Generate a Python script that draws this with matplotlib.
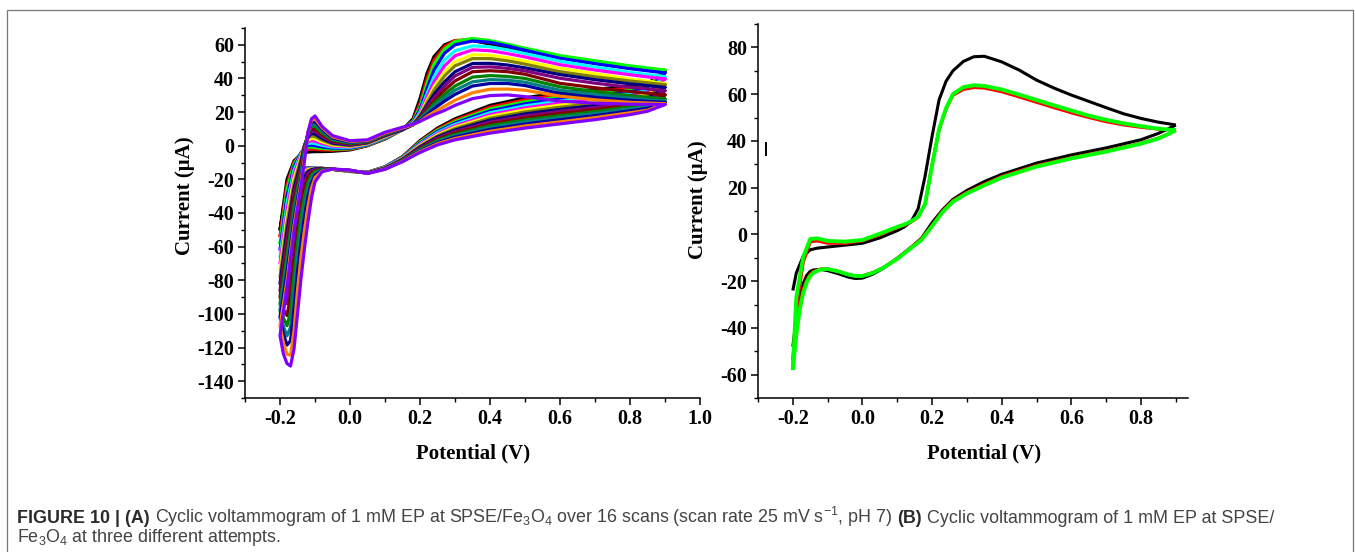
import matplotlib
matplotlib.use("Agg")
import matplotlib.pyplot as plt
from matplotlib.ticker import MultipleLocator, FormatStrFormatter
from matplotlib.lines import Line2D
from matplotlib.patches import Rectangle

plt.rcParams['axes.unicode_minus'] = False
plt.rcParams['font.family'] = 'Liberation Serif'
plt.rcParams['font.weight'] = 'bold'
plt.rcParams['mathtext.fontset'] = 'custom'
plt.rcParams['mathtext.default'] = 'rm'
plt.rcParams['mathtext.rm'] = 'Liberation Sans:normal'
plt.rcParams['mathtext.it'] = 'Liberation Sans:italic:normal'
plt.rcParams['mathtext.bf'] = 'Liberation Sans:bold'

# ---------------- Panel A: 16 successive scans ----------------
# upper branch: +0.9 V back to -0.2 V
E_UP_A = [0.90, 0.80, 0.70, 0.60, 0.50, 0.45, 0.40, 0.35, 0.30, 0.27, 0.24, 0.22, 0.20, 0.18,
          0.15, 0.10, 0.05, 0.00, -0.05, -0.08, -0.10, -0.11, -0.12, -0.13, -0.14, -0.16, -0.18, -0.20]
# lower branch: -0.2 V up to +0.9 V
E_LO_A = [-0.20, -0.19, -0.18, -0.17, -0.16, -0.15, -0.14, -0.13, -0.12, -0.11, -0.10, -0.08, -0.05,
          0.00, 0.05, 0.10, 0.15, 0.20, 0.25, 0.30, 0.40, 0.50, 0.60, 0.70, 0.80, 0.85, 0.90]

scan01_up = [44, 46.5, 49.5, 52.5, 56.5, 58.5, 60.5, 62.5, 62.5, 60, 53, 43, 28, 16, 9.5, 4, 0, -2.5, -3.3, -3.5, -3.5, -3.6, -3.8, -4.2, -5, -9, -20, -50]
scan02_up = [44.5, 47, 50, 53, 57.2, 59.5, 61.5, 63.3, 62.5, 59, 51, 40, 25, 15, 9.5, 4.3, 0.2, -2.1, -2.6, -2.5, -2.1, -2.0, -2.2, -3.0, -4.5, -10, -23, -54]
scan03_up = [45, 47.5, 50.5, 53.6, 58, 60.3, 62.5, 63.8, 62, 57.5, 48.5, 37, 23, 14.5, 9.5, 4.5, 0.4, -1.8, -2.0, -1.6, -1.1, -0.8, -0.9, -2.0, -4.2, -11, -26, -58]
scan04_up = [43.3, 45.8, 48.8, 52, 56.8, 59.3, 61.5, 62.3, 60, 55, 45, 34, 21.5, 14, 9.5, 4.8, 0.6, -1.4, -1.4, -0.7, 0, 0.4, 0.3, -1.2, -4.2, -12.5, -30, -62]
scan05_up = [41, 43.6, 46.8, 50.2, 54.8, 57, 58.8, 59.4, 56.5, 51, 41, 31, 20, 13.5, 9.5, 5.0, 0.9, -1.0, -0.8, 0.3, 1.3, 1.6, 1.3, -0.6, -4.8, -14.5, -34, -66]
scan06_up = [39.7, 42.2, 45, 48.2, 52.8, 54.8, 56.5, 57, 53.5, 47.5, 38, 29, 19, 13, 9.5, 5.3, 1.1, -0.7, -0.2, 1.3, 2.7, 3.0, 2.4, -0.2, -5.5, -17, -38, -70]
scan07_up = [37, 39.7, 42.8, 46, 50.3, 52.3, 53.8, 54.1, 50, 44, 35, 27, 18.5, 13, 9.5, 5.5, 1.3, -0.3, 0.4, 2.3, 4.1, 4.4, 3.4, 0, -6.5, -19.5, -42, -74]
scan08_up = [36.3, 38.5, 41, 44, 48.5, 50.5, 51.8, 51.8, 47.5, 41.5, 33, 25.5, 18, 12.5, 9.5, 5.8, 1.5, 0.0, 1.0, 3.3, 5.5, 5.8, 4.5, 0.2, -7.8, -22.5, -46, -78]
scan09_up = [34.7, 36.8, 39.3, 42.3, 46.3, 48, 49, 48.9, 44, 38, 30.5, 24, 17.5, 12.5, 9.5, 6.0, 1.8, 0.4, 1.6, 4.4, 7.0, 7.2, 5.4, 0.2, -9.5, -25.5, -50.5, -82]
scan10_up = [32.7, 34.8, 37.2, 40.1, 44.5, 46, 46.9, 46.6, 41.5, 35.5, 28.5, 23, 17, 12.5, 9.8, 6.3, 2.0, 0.8, 2.2, 5.5, 8.5, 8.6, 6.2, -0.2, -11.5, -28.5, -55, -86]
scan11_up = [30.2, 32.2, 34.5, 37.1, 42.5, 44, 44.6, 44, 38.5, 33, 26.5, 21.5, 16.5, 12.5, 10, 6.5, 2.2, 1.1, 2.8, 6.6, 10.0, 10.0, 6.9, -1, -13.5, -32, -60, -90]
scan12_up = [27.8, 29.8, 32.3, 35, 40, 41.2, 41.7, 40.8, 35.5, 30.5, 25, 20.5, 16, 12.5, 10, 6.8, 2.4, 1.5, 3.4, 7.7, 11.5, 11.4, 7.4, -2, -15.5, -36, -65, -94]
scan13_up = [26.5, 28.3, 30.5, 33, 37.8, 39, 39.3, 38, 33, 28.5, 23.5, 19.5, 15.5, 12.5, 10, 7.0, 2.7, 1.8, 4.0, 8.8, 13.0, 12.6, 7.8, -3.5, -18, -40, -70, -98]
scan14_up = [25.8, 27, 28.8, 31, 35.8, 37, 37, 35.5, 30.5, 26.5, 22, 18.5, 15, 12.5, 10, 7.3, 2.9, 2.2, 4.6, 9.8, 14.5, 13.8, 8.0, -5, -20, -44, -75, -102]
scan15_up = [25, 25.8, 27.3, 29.5, 33, 33.7, 33.6, 31.5, 27, 23.5, 20, 17.5, 14.5, 12.5, 10.5, 7.5, 3.1, 2.6, 5.3, 10.7, 16.0, 15.0, 8.0, -7, -22, -47.5, -80, -107]
scan16_up = [24.5, 24.7, 25.3, 26.5, 29.2, 30.2, 29.8, 28, 24, 21, 18.5, 16.5, 14.5, 12.8, 11, 8.0, 3.5, 3.0, 6.0, 11.5, 17.7, 16.0, 8.0, -9, -24, -51, -84, -113]

scan01_lo = [-50, -38, -27, -20, -16, -14.5, -13.8, -13.4, -13.2, -13.2, -13.3, -13.5, -14, -15.3, -15.8, -12.5, -6.5, 3, 10.5, 16, 24, 28.5, 31.5, 33.5, 35.5, 37, 44]
scan02_lo = [-54, -45, -32, -23, -17.5, -15, -14, -13.5, -13.3, -13.2, -13.3, -13.5, -14, -15.25, -15.85, -12.6, -6.7, 2.5, 9.8, 15.2, 22.9, 27.3, 30.3, 32.3, 34.4, 36, 44.5]
scan03_lo = [-58, -52, -38, -26, -19, -16, -14.5, -13.7, -13.4, -13.3, -13.3, -13.5, -14, -15.2, -15.9, -12.7, -6.9, 2.1, 9.2, 14.3, 21.8, 26.1, 29, 31.1, 33.2, 35, 45]
scan04_lo = [-62, -59, -45, -31, -21.5, -17, -15, -14, -13.5, -13.3, -13.3, -13.5, -14, -15.1, -15.9, -12.8, -7.1, 1.6, 8.5, 13.5, 20.7, 24.9, 27.8, 29.9, 32.1, 33.8, 43.3]
scan05_lo = [-66, -67, -54, -37, -25, -18.5, -15.5, -14.3, -13.7, -13.4, -13.3, -13.5, -14, -15.1, -16, -12.9, -7.3, 1.1, 7.8, 12.7, 19.6, 23.7, 26.6, 28.7, 31, 32.6, 41]
scan06_lo = [-70, -71.5, -62, -44, -30, -21, -16.5, -14.8, -14, -13.6, -13.4, -13.5, -14, -15, -16, -13, -7.5, 0.7, 7.2, 11.8, 18.5, 22.5, 25.3, 27.5, 29.8, 31.4, 39.7]
scan07_lo = [-74, -76.3, -70, -52, -35, -24.5, -18, -15.5, -14.3, -13.8, -13.5, -13.5, -14, -15, -16.1, -13.1, -7.7, 0.2, 6.5, 11, 17.4, 21.3, 24.1, 26.3, 28.7, 30.2, 37]
scan08_lo = [-78, -81.5, -78, -61, -42, -30, -21, -16.5, -14.8, -14, -13.6, -13.5, -14, -14.9, -16.1, -13.2, -7.9, -0.3, 5.8, 10.2, 16.3, 20.1, 22.9, 25.1, 27.6, 29.2, 36.3]
scan09_lo = [-82, -87, -86, -71, -50, -36, -25, -18.5, -15.5, -14.3, -13.8, -13.5, -14, -14.9, -16.2, -13.3, -8.1, -0.7, 5.2, 9.3, 15.2, 18.9, 21.6, 23.9, 26.4, 28, 34.7]
scan10_lo = [-86, -92.5, -94, -81, -59, -43, -30, -21.5, -16.8, -15, -14.2, -13.6, -14, -14.8, -16.2, -13.4, -8.3, -1.2, 4.5, 8.5, 14.1, 17.7, 20.4, 22.7, 25.3, 26.8, 32.7]
scan11_lo = [-90, -97.5, -101, -90, -68, -50, -36, -25.5, -19, -16, -14.7, -13.8, -14, -14.8, -16.3, -13.5, -8.5, -1.7, 3.8, 7.7, 13, 16.5, 19.2, 21.5, 24.2, 25.6, 30.2]
scan12_lo = [-94, -102.5, -107, -99, -77, -58, -42, -30, -22, -17.5, -15.3, -14, -14, -14.7, -16.3, -13.6, -8.7, -2.1, 3.2, 6.8, 11.9, 15.3, 17.9, 20.3, 23, 24.4, 27.8]
scan13_lo = [-98, -107.5, -113, -108, -87, -66, -49, -35.5, -25.5, -19.5, -16.3, -14.3, -14, -14.7, -16.4, -13.7, -8.9, -2.6, 2.5, 6, 10.8, 14.1, 16.7, 19.1, 21.9, 23.3, 26.5]
scan14_lo = [-102, -112, -118.5, -116, -97, -75, -57, -42, -30, -22, -17.5, -14.6, -14, -14.6, -16.4, -13.8, -9.1, -3.1, 1.8, 5.2, 9.7, 12.9, 15.5, 17.9, 20.8, 22.2, 25.8]
scan15_lo = [-107, -117.5, -124, -124.5, -110, -86, -66, -50, -36, -25, -19, -15, -14, -14.6, -16.5, -13.9, -9.3, -3.5, 1.2, 4.3, 8.6, 11.7, 14.2, 16.7, 19.6, 21.1, 25]
scan16_lo = [-113, -124, -129.5, -131, -121, -100, -79, -61, -45, -31, -21.5, -15.5, -13.8, -14.5, -16.5, -14, -9.5, -4, 0.5, 3.5, 7.5, 10.5, 13, 15.5, 18.5, 20.5, 24.5]

SCAN_COLORS = ['#000000', '#FF0000', '#00FF00', '#0000FF', '#00FFFF', '#FF00FF', '#FFFF00', '#808000',
               '#000080', '#800080', '#800000', '#008000', '#008080', '#0000A0', '#FF8000', '#8000FF']

scans_up = [scan01_up, scan02_up, scan03_up, scan04_up, scan05_up, scan06_up, scan07_up, scan08_up,
            scan09_up, scan10_up, scan11_up, scan12_up, scan13_up, scan14_up, scan15_up, scan16_up]
scans_lo = [scan01_lo, scan02_lo, scan03_lo, scan04_lo, scan05_lo, scan06_lo, scan07_lo, scan08_lo,
            scan09_lo, scan10_lo, scan11_lo, scan12_lo, scan13_lo, scan14_lo, scan15_lo, scan16_lo]

# ---------------- Panel B: three attempts ----------------
E_UP_B = [0.90, 0.85, 0.80, 0.75, 0.70, 0.65, 0.60, 0.55, 0.50, 0.45, 0.40, 0.35, 0.32, 0.29, 0.26, 0.24,
          0.22, 0.20, 0.18, 0.16, 0.14, 0.12, 0.10, 0.05, 0.00, -0.05, -0.10, -0.13, -0.15, -0.17, -0.19, -0.20]
E_LO_B = [-0.20, -0.19, -0.18, -0.17, -0.16, -0.15, -0.14, -0.12, -0.10, -0.07, -0.04, -0.02, 0.00, 0.03,
          0.06, 0.10, 0.14, 0.17, 0.20, 0.23, 0.26, 0.30, 0.35, 0.40, 0.50, 0.60, 0.70, 0.80, 0.85, 0.88, 0.90]

attempt1_up = [46.8, 48, 49.6, 51.6, 54.2, 56.9, 59.6, 62.6, 66, 70.3, 73.8, 76.2, 76, 74, 70, 65.5,
               57.5, 42, 25, 11, 5.5, 3.2, 1.6, -1.5, -3.8, -4.6, -5.4, -5.9, -6.6, -9.3, -16.5, -24]
attempt2_up = [44.6, 45, 45.8, 46.8, 48.2, 50, 52, 54.2, 56.5, 58.8, 61, 62.6, 62.8, 62, 59.5, 53.5,
               44.5, 30, 13, 7.3, 5.3, 3.8, 2.8, -0.2, -2.8, -3.8, -3.8, -2.8, -3.2, -12, -32, -54]
attempt3_up = [44.6, 45.2, 46.3, 47.5, 49, 50.8, 53, 55.2, 57.5, 59.8, 62, 63.5, 63.8, 63, 60, 54,
               45, 29.5, 13, 7.5, 5.6, 4.2, 3.2, 0.3, -2.4, -3.1, -2.8, -1.7, -2.0, -9.6, -27, -58]

attempt1_lo = [-48, -36, -27, -21, -17.5, -15.8, -15.2, -15, -15.5, -16.8, -18.3, -18.9, -18.7, -17, -14.5, -10.2,
               -5.5, -1.6, 5, 10.5, 15, 18.8, 22.6, 25.7, 30.5, 34, 37, 40.5, 43.2, 45.3, 46.8]
attempt2_lo = [-54, -40, -30, -23.5, -19.5, -17, -15.8, -14.8, -14.8, -15.8, -17.2, -17.8, -17.7, -16.3, -14.2, -10.3,
               -5.5, -1.8, 4, 10, 14.5, 18, 21.5, 24.8, 29.5, 32.8, 35.7, 39, 41.2, 43.1, 44.6]
attempt3_lo = [-58, -43, -32, -25, -20.5, -17.8, -16.3, -15, -14.8, -15.8, -17.2, -17.8, -17.8, -16.5, -14.3, -10.5,
               -5.8, -2.3, 3.5, 9.5, 14, 17.5, 21, 24.3, 29, 32.5, 35.4, 38.8, 41, 43, 44.6]

ATTEMPT_COLORS = ['#000000', '#FF0000', '#00FF00']
ATTEMPT_WIDTHS = [2.2, 2.2, 2.8]

X_TICKS_A = [-0.2, 0.0, 0.2, 0.4, 0.6, 0.8, 1.0]
Y_TICKS_A = [-140, -120, -100, -80, -60, -40, -20, 0, 20, 40, 60]
X_TICKS_B = [-0.2, 0.0, 0.2, 0.4, 0.6, 0.8]
Y_TICKS_B = [-60, -40, -20, 0, 20, 40, 60, 80]

W, H = 1355, 552
fig = plt.figure(figsize=(W / 100, H / 100), dpi=100)
fig.patch.set_facecolor('white')

axA = fig.add_axes([245 / W, 1 - 398 / H, 455 / W, 370 / H])
axB = fig.add_axes([758 / W, 1 - 398 / H, 430 / W, 374 / H])


def style_axes(ax, xlim, ylim, xticks, yticks, xminor, yminor):
    ax.set_xlim(*xlim)
    ax.set_ylim(*ylim)
    ax.set_xticks(xticks)
    ax.set_yticks(yticks)
    ax.xaxis.set_minor_locator(MultipleLocator(xminor))
    ax.yaxis.set_minor_locator(MultipleLocator(yminor))
    ax.xaxis.set_major_formatter(FormatStrFormatter('%.1f'))
    ax.yaxis.set_major_formatter(FormatStrFormatter('%d'))
    for side in ('top', 'right'):
        ax.spines[side].set_visible(False)
    for side in ('left', 'bottom'):
        ax.spines[side].set_linewidth(1.1)
    ax.tick_params(which='major', direction='out', length=5, width=1.1, labelsize=14.5, pad=3)
    ax.tick_params(which='minor', direction='out', length=3, width=1.0)
    ax.set_xlabel('Potential (V)', fontsize=15, fontweight='bold', va='center')
    ax.set_ylabel('Current (\u03bcA)', fontsize=15, fontweight='bold', va='center')


for up, lo, col in zip(scans_up, scans_lo, SCAN_COLORS):
    axA.plot(E_UP_A + E_LO_A, up + lo, color=col, lw=2.3, solid_joinstyle='round',
             solid_capstyle='round')
style_axes(axA, (-0.3, 1.0), (-150, 70), X_TICKS_A, Y_TICKS_A, 0.1, 10)
axA.yaxis.set_label_coords((185 - 245) / 455, (398 - 196) / 370)
axA.xaxis.set_label_coords((473 - 245) / 455, (398 - 453) / 370)

attempts = [(attempt1_up, attempt1_lo), (attempt2_up, attempt2_lo), (attempt3_up, attempt3_lo)]
for (up, lo), col, lw in zip(attempts, ATTEMPT_COLORS, ATTEMPT_WIDTHS):
    axB.plot(E_UP_B, up, color=col, lw=lw, solid_joinstyle='round', solid_capstyle='butt')
    axB.plot(E_LO_B, lo, color=col, lw=lw, solid_joinstyle='round', solid_capstyle='butt')
style_axes(axB, (-0.3, 0.935), (-70, 90), X_TICKS_B, Y_TICKS_B, 0.1, 10)
axB.yaxis.set_label_coords((698 - 758) / 430, (398 - 200) / 374)
axB.xaxis.set_label_coords((984 - 758) / 430, (398 - 453) / 374)

# small stray cursor mark beside panel B's axis
fig.add_artist(Line2D([766 / W, 766 / W], [1 - 143 / H, 1 - 155 / H], transform=fig.transFigure,
                      color='black', lw=1.4))

# frame around the figure
fig.add_artist(Rectangle((7 / W, -0.05), (1353 - 7) / W, 1.05 - 9.5 / H, transform=fig.transFigure,
                         fill=False, edgecolor='#777777', lw=0.9))

# caption
renderer = fig.canvas.get_renderer()
CAP_SIZE = 12.9
BOLD_COL = '#2b2b2b'
TEXT_COL = '#444444'


def caption_line(pieces, x_px, baseline_px):
    x = x_px
    for text, weight, color in pieces:
        t = fig.text(x / W, 1 - baseline_px / H, text, fontsize=CAP_SIZE, fontweight=weight,
                     color=color, family='Liberation Sans', ha='left', va='baseline')
        bb = t.get_window_extent(renderer)
        x = bb.x1 + 5.0


caption_line([
    ('FIGURE 10 | (A)', 'bold', BOLD_COL),
    ('Cyclic voltammogram of 1 mM EP at SPSE/Fe$_3$O$_4$ over 16 scans (scan rate 25 mV s$^{-1}$, pH 7)',
     'normal', TEXT_COL),
    ('(B)', 'bold', BOLD_COL),
    ('Cyclic voltammogram of 1 mM EP at SPSE/', 'normal', TEXT_COL),
], 17, 523)
caption_line([
    ('Fe$_3$O$_4$ at three different attempts.', 'normal', TEXT_COL),
], 17, 542)

fig.savefig('out.png', dpi=100)
